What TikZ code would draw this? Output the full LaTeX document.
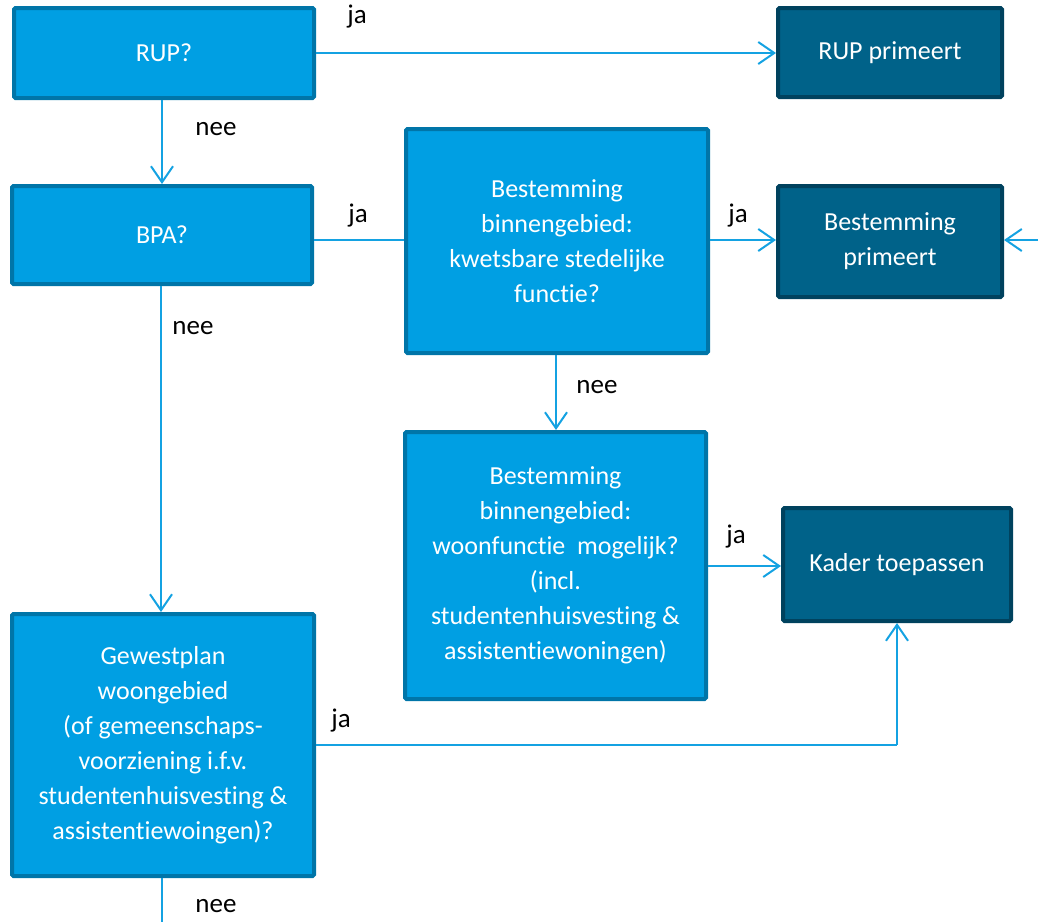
\documentclass[tikz,border=0pt]{standalone}
\usepackage{fontspec}
\setmainfont{Carlito}[Ligatures=NoCommon]
\usetikzlibrary{arrows.meta}
\definecolor{boxblue}{RGB}{0,159,227}
\definecolor{boxedge}{RGB}{0,117,168}
\definecolor{darkfill}{RGB}{0,98,137}
\definecolor{darkedge}{RGB}{0,66,94}
\definecolor{linkblue}{RGB}{20,162,226}
\begin{document}
\begin{tikzpicture}[x=1pt,y=-1pt,
    box/.style={draw=boxedge,fill=boxblue,line width=4pt,rounded corners=1.5pt,
        text=white,align=center,inner sep=0pt,
        font=\fontsize{26}{35}\selectfont},
    darkbox/.style={box,draw=darkedge,fill=darkfill},
    conn/.style={draw=linkblue,line width=2pt},
    arr/.style={conn,-{Straight Barb[length=16pt,width=22pt,line width=2pt]}},
    lbl/.style={anchor=base,inner sep=0pt,font=\fontsize{27}{32}\selectfont}]
    \useasboundingbox (0,0) rectangle (1038,922);
    %% decision boxes
    \node[box,minimum width=300pt,minimum height=90pt] (rup) at (164,53) {RUP?};
    \node[box,minimum width=300pt,minimum height=98pt] (bpa) at (162,235) {BPA?};
    \node[box,minimum width=302pt,minimum height=224pt] (kwets) at (557,241)
        {Bestemming\\binnengebied:\\kwetsbare stedelijke\\functie?};
    \node[box,minimum width=301pt,minimum height=267pt] (woon) at (555.5,565.5)
        {Bestemming\\binnengebied:\\woonfunctie~ mogelijk?\\(incl.\\studentenhuisvesting \&\\assistentiewoningen)};
    \node[box,minimum width=302pt,minimum height=262pt] (gewest) at (163,745)
        {Gewestplan\\woongebied\\(of gemeenschaps-\\voorziening i.f.v.\\studentenhuisvesting \&\\assistentiewoingen)?};
    %% outcome boxes
    \node[darkbox,minimum width=224pt,minimum height=89pt] (rupprim) at (890,52.5) {RUP primeert};
    \node[darkbox,minimum width=224pt,minimum height=111pt] (bestprim) at (890,241.5) {Bestemming\\primeert};
    \node[darkbox,minimum width=228pt,minimum height=113pt] (kader) at (897,564.5) {Kader toepassen};
    %% loose ends
    \coordinate (inright) at (1038,240);
    \coordinate (outdown) at (162,922);
    \coordinate (corner) at (kader.south |- gewest.east);
    %% connectors
    \draw[arr] (rup.east) -- (rup.east -| rupprim.west);
    \draw[arr] (rup.south -| 162,0) -- (bpa.north);
    \draw[conn] (bpa.east |- 0,240) -- (kwets.west |- 0,240);
    \draw[arr] (kwets.east |- 0,240) -- (bestprim.west |- 0,240);
    \draw[arr] (inright) -- (bestprim.east |- inright);
    \draw[arr] (kwets.south -| 556,0) -- (woon.north -| 556,0);
    \draw[arr] (woon.east |- 0,566) -- (kader.west |- 0,566);
    \draw[arr] (bpa.south -| 161,0) -- (gewest.north -| 161,0);
    \draw[conn] (gewest.east) -- (corner);
    \draw[arr] (corner) -- (kader.south);
    \draw[conn] (gewest.south -| outdown) -- (outdown);
    %% labels
    \node[lbl] (ja1) at (357,23) {ja};
    \node[lbl] (nee1) at (216,135) {nee};
    \node[lbl] (ja2) at (358,222) {ja};
    \node[lbl] (ja3) at (738,222) {ja};
    \node[lbl] (nee2) at (597,393) {nee};
    \node[lbl] (nee3) at (193,334) {nee};
    \node[lbl] (ja4) at (736,543) {ja};
    \node[lbl] (ja5) at (341,727) {ja};
    \node[lbl] (nee4) at (216,912) {nee};
\end{tikzpicture}
\end{document}
